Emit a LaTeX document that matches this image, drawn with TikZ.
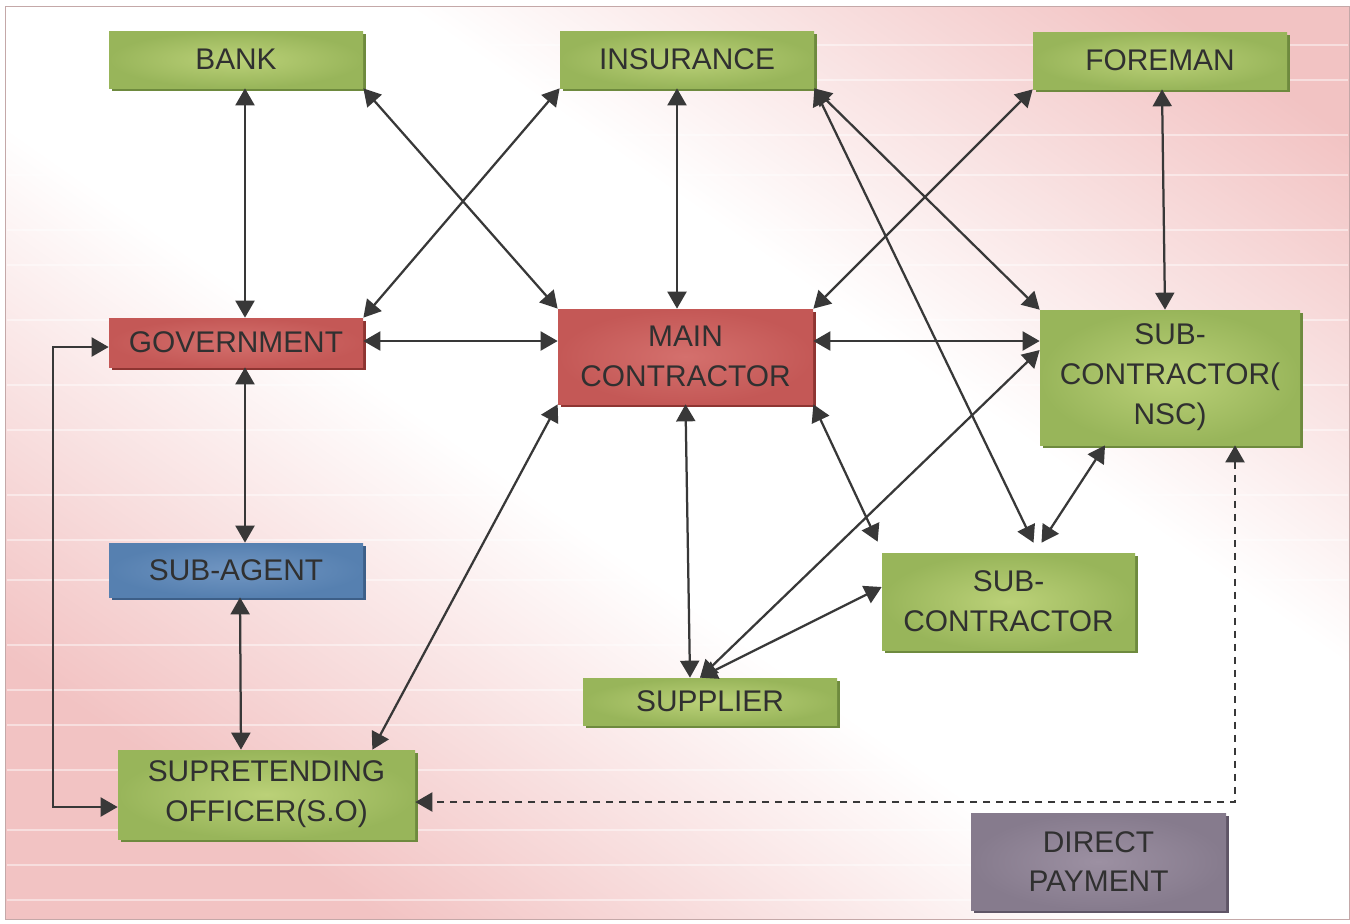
\documentclass[tikz,border=0pt]{standalone}
\usepackage{fontspec}
\setmainfont{Liberation Sans}
\usepackage{xcolor}
\usetikzlibrary{arrows.meta,shadows,calc}
\definecolor{bgpink}{HTML}{F2C3C3}
\definecolor{grn}{HTML}{98B55A}
\definecolor{grnin}{HTML}{BBD178}
\definecolor{grndk}{HTML}{6E8A3E}
\definecolor{redo}{HTML}{C45856}
\definecolor{redin}{HTML}{D4706D}
\definecolor{reddk}{HTML}{8E3532}
\definecolor{bluo}{HTML}{5680B0}
\definecolor{bluin}{HTML}{7196C2}
\definecolor{bludk}{HTML}{3D5F88}
\definecolor{purpo}{HTML}{867B8D}
\definecolor{purpin}{HTML}{9C90A2}
\definecolor{purpdk}{HTML}{5F5566}
\definecolor{txt}{HTML}{303030}
\definecolor{arrc}{HTML}{383838}
\pgfdeclarehorizontalshading{bgband}{100bp}{color(0bp)=(bgpink); color(25bp)=(bgpink); color(45bp)=(white); color(60bp)=(white); color(80bp)=(bgpink); color(100bp)=(bgpink)}

\begin{document}
\begin{tikzpicture}[
  every node/.style={font=\fontsize{17}{22.7}\selectfont, text=txt},
  box/.style={minimum width=5.08cm, align=center, inner sep=0pt},
  gbox/.style={box, inner color=grnin, outer color=grn, drop shadow={shadow xshift=0.06cm, shadow yshift=-0.06cm, fill=grndk, opacity=1}},
  rbox/.style={box, inner color=redin, outer color=redo, drop shadow={shadow xshift=0.06cm, shadow yshift=-0.06cm, fill=reddk, opacity=1}},
  bbox/.style={box, inner color=bluin, outer color=bluo, drop shadow={shadow xshift=0.06cm, shadow yshift=-0.06cm, fill=bludk, opacity=1}},
  pbox/.style={box, inner color=purpin, outer color=purpo, drop shadow={shadow xshift=0.06cm, shadow yshift=-0.06cm, fill=purpdk, opacity=1}},
  arr/.style={{Triangle[length=0.34cm,width=0.38cm]}-{Triangle[length=0.34cm,width=0.38cm]}, line width=0.045cm, draw=arrc},
  darr/.style={arr, dash pattern=on 0.14cm off 0.12cm},
]
\fill[white] (0,0) rectangle (27,-18.46);
\path[shading=bgband, shading angle=55, draw=bgpink!60!gray, line width=0.02cm] (0.12,-0.12) rectangle (26.98,-18.38);
\foreach \y in {-0.9,-1.6,-2.7,-3.5,-4.6,-5.3,-6.4,-7.7,-8.6,-9.9,-10.8,-11.6,-12.9,-13.8,-14.5,-15.4,-16.6,-17.3,-18.0}
  \draw[white, opacity=0.45, line width=0.03cm] (0.14,\y) -- (26.96,\y);

\node[gbox, minimum height=1.14cm] (bank) at (4.72,-1.19) {BANK};
\node[gbox, minimum height=1.14cm] (ins) at (13.74,-1.19) {INSURANCE};
\node[gbox, minimum height=1.14cm] (fore) at (23.2,-1.21) {FOREMAN};
\node[rbox, minimum height=0.98cm] (gov) at (4.72,-6.85) {GOVERNMENT};
\node[rbox, minimum height=1.9cm, minimum width=5.1cm] (main) at (13.71,-7.13) {MAIN\\CONTRACTOR};
\node[gbox, minimum height=2.7cm, minimum width=5.2cm] (nsc) at (23.4,-7.55) {SUB-\\CONTRACTOR(\\NSC)};
\node[bbox, minimum height=1.08cm] (agent) at (4.72,-11.4) {SUB-AGENT};
\node[gbox, minimum height=1.78cm, minimum width=5.94cm] (so) at (5.33,-15.89) {SUPRETENDING\\OFFICER(S.O)};
\node[gbox, minimum height=0.94cm] (supp) at (14.2,-14.03) {SUPPLIER};
\node[gbox, minimum height=1.94cm, minimum width=5.06cm] (sub) at (20.17,-12.03) {SUB-\\CONTRACTOR};
\node[pbox, minimum height=1.94cm, minimum width=5.1cm] (direct) at (21.97,-17.23) {DIRECT\\PAYMENT};
\coordinate (lft) at (1.06,-10);

\draw[arr] ([xshift=0.18cm]bank.south) -- ([xshift=0.18cm]gov.north);
\draw[arr] (bank.south east) -- (main.north west);
\draw[arr] (ins.south west) -- (gov.north east);
\draw[arr] ([xshift=-0.2cm]ins.south) -- ([xshift=-0.17cm]main.north);
\draw[arr] (ins.south east) -- (nsc.north west);
\draw[arr] (ins.south east) -- ([shift={(0.5cm,0.2cm)}]sub.north);
\draw[arr] (fore.south west) -- (main.north east);
\draw[arr] ([xshift=0.04cm]fore.south) -- ([xshift=-0.1cm]nsc.north);
\draw[arr] ([yshift=0.03cm]gov.east) -- ([yshift=0.31cm]main.west);
\draw[arr] ([yshift=0.31cm]main.east) -- ([yshift=0.73cm]nsc.west);
\draw[arr] ([xshift=0.18cm]gov.south) -- ([xshift=0.18cm]agent.north);
\draw[arr] ([xshift=0.08cm]agent.south) -- ([xshift=-0.51cm]so.north);
\draw[arr] (main.south west) -- ([xshift=-0.86cm]so.north east);
\draw[arr] (main.south) -- ([xshift=-0.4cm]supp.north);
\draw[arr] (main.south east) -- ([shift={(-0.08cm,0.22cm)}]sub.north west);
\draw[arr] ([xshift=-0.2cm]supp.north) -- ([yshift=0.55cm]nsc.west);
\draw[arr] ([xshift=-0.2cm]supp.north) -- ([yshift=0.29cm]sub.west);
\draw[arr] ([shift={(0.66cm,0.2cm)}]sub.north) -- ([xshift=-1.3cm]nsc.south);
\draw[darr] ([xshift=1.3cm]nsc.south) |- ([yshift=-0.15cm]so.east);
\draw[arr] ([yshift=-0.09cm]gov.west) -| (lft) |- ([yshift=-0.25cm]so.west);
\end{tikzpicture}
\end{document}
